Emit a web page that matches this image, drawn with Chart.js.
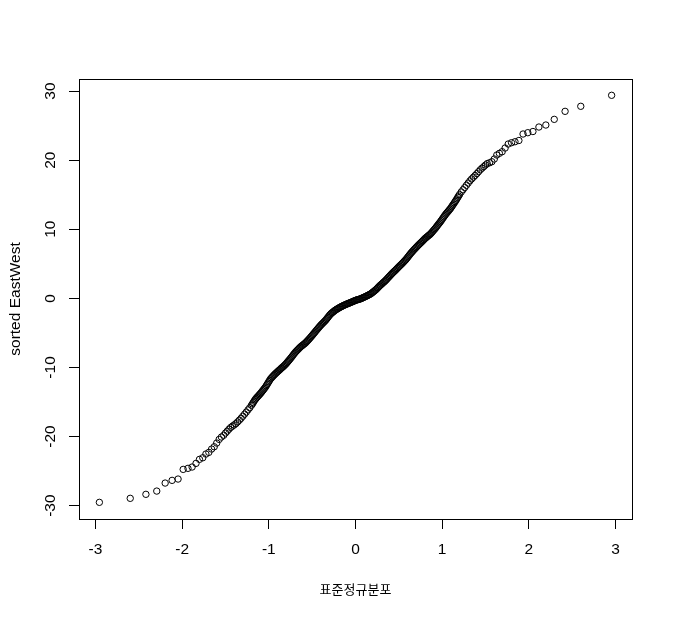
<!DOCTYPE html>
<html>
<head>
<meta charset="utf-8">
<script src="https://cdn.jsdelivr.net/npm/chart.js@4/dist/chart.umd.min.js"></script>
<style>
  html, body { margin: 0; padding: 0; background: #ffffff; }
  #c { display: block; }
</style>
</head>
<body>
<canvas id="c" width="673" height="617"></canvas>
<script>
// Theoretical normal quantiles (x) and sorted EastWest values (y)
const lowerTailQ = [-2.955,-2.599,-2.418,-2.293,-2.196,-2.116,-2.047,-1.988,-1.933,-1.885,-1.840,-1.800,-1.762,-1.726,-1.692,-1.660,-1.630,-1.601,-1.573,-1.547];
const lowerTailV = [-29.52,-28.94,-28.36,-27.89,-26.73,-26.34,-26.15,-24.75,-24.60,-24.41,-23.88,-23.30,-23.07,-22.53,-22.29,-21.81,-21.48,-20.94,-20.41,-20.07];

const centralQ = [-1.52,-1.50,-1.48,-1.46,-1.44,-1.42,-1.40,-1.38,-1.36,-1.34,-1.32,-1.30,-1.28,-1.26,-1.24,-1.22,-1.20,-1.18,-1.16,-1.14,-1.12,-1.10,-1.08,-1.06,-1.04,-1.02,-1.00,-0.98,-0.96,-0.94,-0.92,-0.90,-0.88,-0.86,-0.84,-0.82,-0.80,-0.78,-0.76,-0.74,-0.72,-0.70,-0.68,-0.66,-0.64,-0.62,-0.60,-0.58,-0.56,-0.54,-0.52,-0.50,-0.48,-0.46,-0.44,-0.42,-0.40,-0.38,-0.36,-0.34,-0.32,-0.30,-0.28,-0.26,-0.24,-0.22,-0.20,-0.18,-0.16,-0.14,-0.12,-0.10,-0.08,-0.06,-0.04,-0.02,0.00,0.02,0.04,0.06,0.08,0.10,0.12,0.14,0.16,0.18,0.20,0.22,0.24,0.26,0.28,0.30,0.32,0.34,0.36,0.38,0.40,0.42,0.44,0.46,0.48,0.50,0.52,0.54,0.56,0.58,0.60,0.62,0.64,0.66,0.68,0.70,0.72,0.74,0.76,0.78,0.80,0.82,0.84,0.86,0.88,0.90,0.92,0.94,0.96,0.98,1.00,1.02,1.04,1.06,1.08,1.10,1.12,1.14,1.16,1.18,1.20,1.22,1.24,1.26,1.28,1.30,1.32,1.34,1.36,1.38,1.40,1.42,1.44,1.46,1.48,1.50,1.52];
const centralV = [-19.81,-19.49,-19.22,-18.94,-18.68,-18.50,-18.32,-18.13,-17.88,-17.63,-17.36,-17.06,-16.76,-16.46,-16.14,-15.83,-15.47,-15.08,-14.68,-14.37,-14.10,-13.82,-13.51,-13.19,-12.86,-12.46,-12.05,-11.65,-11.37,-11.10,-10.85,-10.62,-10.39,-10.16,-9.94,-9.71,-9.45,-9.15,-8.85,-8.54,-8.21,-7.89,-7.61,-7.35,-7.09,-6.88,-6.68,-6.48,-6.22,-5.95,-5.67,-5.37,-5.07,-4.76,-4.46,-4.16,-3.87,-3.62,-3.37,-3.10,-2.78,-2.45,-2.18,-1.98,-1.77,-1.60,-1.45,-1.30,-1.17,-1.05,-0.93,-0.82,-0.72,-0.62,-0.51,-0.40,-0.29,-0.21,-0.14,-0.06,0.06,0.17,0.29,0.42,0.54,0.69,0.89,1.09,1.31,1.57,1.82,2.05,2.28,2.50,2.76,3.04,3.31,3.57,3.82,4.06,4.32,4.57,4.82,5.07,5.33,5.59,5.91,6.24,6.55,6.83,7.11,7.38,7.63,7.88,8.13,8.38,8.63,8.85,9.06,9.26,9.53,9.83,10.12,10.45,10.77,11.09,11.45,11.81,12.16,12.46,12.76,13.07,13.45,13.82,14.20,14.61,15.02,15.39,15.71,16.04,16.36,16.68,17.00,17.28,17.53,17.78,18.05,18.33,18.61,18.84,19.06,19.29,19.50];

// extra readings where the points are densest (the solid band near the centre)
const denseQ = [-1.19,-1.17,-1.15,-1.13,-1.11,-1.09,-1.07,-1.05,-1.03,-1.01,-0.99,-0.97,-0.95,-0.93,-0.91,-0.89,-0.87,-0.85,-0.83,-0.81,-0.79,-0.77,-0.75,-0.73,-0.71,-0.69,-0.67,-0.65,-0.63,-0.61,-0.59,-0.57,-0.55,-0.53,-0.51,-0.49,-0.47,-0.45,-0.43,-0.41,-0.39,-0.37,-0.35,-0.33,-0.31,-0.29,-0.27,-0.25,-0.23,-0.21,-0.19,-0.17,-0.15,-0.13,-0.11,-0.09,-0.07,-0.05,-0.03,-0.01,0.01,0.03,0.05,0.07,0.09,0.11,0.13,0.15,0.17,0.19,0.21,0.23,0.25,0.27,0.29,0.31,0.33,0.35,0.37,0.39,0.41,0.43,0.45,0.47,0.49,0.51,0.53,0.55,0.57,0.59,0.61,0.63,0.65,0.67,0.69,0.71,0.73,0.75,0.77,0.79,0.81,0.83,0.85,0.87,0.89,0.91,0.93,0.95,0.97,0.99,1.01,1.03,1.05,1.07,1.09,1.11,1.13,1.15,1.17,1.19];
const denseV = [-15.28,-14.88,-14.53,-14.24,-13.96,-13.67,-13.35,-13.03,-12.66,-12.26,-11.85,-11.51,-11.24,-10.98,-10.74,-10.51,-10.28,-10.05,-9.83,-9.58,-9.30,-9.00,-8.70,-8.38,-8.05,-7.75,-7.48,-7.22,-6.99,-6.78,-6.58,-6.35,-6.09,-5.81,-5.52,-5.22,-4.92,-4.61,-4.31,-4.02,-3.75,-3.50,-3.24,-2.94,-2.62,-2.32,-2.08,-1.88,-1.69,-1.53,-1.38,-1.24,-1.11,-0.99,-0.88,-0.77,-0.67,-0.57,-0.46,-0.35,-0.25,-0.18,-0.10,0.00,0.11,0.23,0.35,0.48,0.61,0.79,0.99,1.20,1.44,1.69,1.93,2.16,2.39,2.63,2.90,3.17,3.44,3.69,3.94,4.19,4.44,4.69,4.94,5.20,5.46,5.75,6.07,6.39,6.69,6.97,7.24,7.50,7.75,8.00,8.25,8.50,8.74,8.95,9.16,9.39,9.68,9.97,10.28,10.61,10.93,11.27,11.63,11.98,12.31,12.61,12.91,13.26,13.63,14.01,14.40,14.81];

const upperTailQ = [1.547,1.573,1.601,1.630,1.660,1.692,1.726,1.762,1.800,1.840,1.885,1.933,1.988,2.047,2.116,2.196,2.293,2.418,2.599,2.955];
const upperTailV = [19.62,19.77,20.16,20.74,20.98,21.22,21.75,22.33,22.52,22.66,22.84,23.78,23.97,24.14,24.79,25.08,25.90,27.06,27.79,29.38];

const xTickValues = [-3,-2,-1,0,1,2,3];
const yTickValues = [-30,-20,-10,0,10,20,30];
const xTitle = '표준정규분포';
const yTitle = 'sorted EastWest';

const qAll = lowerTailQ.concat(centralQ, denseQ, upperTailQ);
const vAll = lowerTailV.concat(centralV, denseV, upperTailV);
const points = qAll.map((q, i) => ({ x: q, y: vAll[i] }));

const LATIN = "'Liberation Sans', Arial, sans-serif";

const boxPlugin = {
  id: 'box',
  afterDraw(chart) {
    const a = chart.chartArea;
    const ctx = chart.ctx;
    ctx.save();
    ctx.strokeStyle = '#000';
    ctx.lineWidth = 1;
    ctx.strokeRect(Math.round(a.left) + 0.5, Math.round(a.top) + 0.5,
                   Math.round(a.right - a.left), Math.round(a.bottom - a.top));
    ctx.restore();
  }
};

new Chart(document.getElementById('c'), {
  type: 'scatter',
  data: {
    datasets: [{
      data: points,
      pointStyle: 'circle',
      pointRadius: 3.2,
      pointBorderWidth: 1,
      borderColor: '#000',
      backgroundColor: 'rgba(0,0,0,0)',
      pointBorderColor: '#000',
      pointBackgroundColor: 'rgba(0,0,0,0)'
    }]
  },
  options: {
    responsive: false,
    animation: false,
    devicePixelRatio: 1,
    events: [],
    layout: { padding: { left: 0, right: 41, top: 79, bottom: 0 } },
    plugins: { legend: { display: false }, tooltip: { enabled: false } },
    scales: {
      x: {
        type: 'linear',
        min: -3.19,
        max: 3.19,
        afterBuildTicks: s => { s.ticks = xTickValues.map(v => ({ value: v })); },
        afterFit: s => { s.height = 98; },
        border: { display: false },
        grid: { drawOnChartArea: false, drawTicks: true, tickLength: 10, color: '#000', lineWidth: 1 },
        ticks: { autoSkip: false, maxRotation: 0, minRotation: 0, padding: 11, color: '#000',
                 font: { family: LATIN, size: 15.5 } },
        title: { display: true, text: xTitle, color: '#000',
                 font: { family: "'Noto Sans CJK KR', sans-serif", size: 13 },
                 padding: { top: 0, bottom: 20 } }
      },
      y: {
        type: 'linear',
        min: -31.93,
        max: 31.74,
        afterBuildTicks: s => { s.ticks = yTickValues.map(v => ({ value: v })); },
        afterFit: s => { s.width = 79; },
        border: { display: false },
        grid: { drawOnChartArea: false, drawTicks: true, tickLength: 10, color: '#000', lineWidth: 1 },
        ticks: { autoSkip: false, minRotation: 90, maxRotation: 90, crossAlign: 'center', padding: 7,
                 color: '#000', font: { family: LATIN, size: 15.5 } },
        title: { display: true, text: yTitle, color: '#000',
                 font: { family: LATIN, size: 15.5 },
                 padding: { top: 6, bottom: 0 } }
      }
    }
  },
  plugins: [boxPlugin]
});
</script>
</body>
</html>
